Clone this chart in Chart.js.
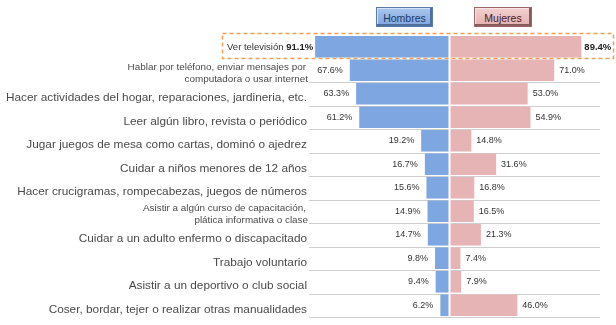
<!DOCTYPE html>
<html>
<head>
<meta charset="utf-8">
<script src="https://cdn.jsdelivr.net/npm/chart.js@4/dist/chart.umd.min.js"></script>
<style>
  html,body{margin:0;padding:0;background:#fff;}
  #wrap{position:relative;width:616px;height:325px;}
  .btn{position:absolute;top:7px;height:20px;font:10.5px "Liberation Sans",Arial,sans-serif;
       line-height:20px;text-align:center;box-sizing:border-box;}
  #bH{left:376px;width:57px;color:#1f3864;border:1px solid #5a7aa8;
      background:linear-gradient(#a9c6ee,#7ea6de);box-shadow:inset -2px -2px 0 #4f6f9f, inset 1px 1px 0 #d4e2f7;}
  #bM{left:474px;width:58px;color:#4a2020;border:1px solid #9a6a6a;
      background:linear-gradient(#f3d0d0,#e2b0b1);box-shadow:inset -2px -2px 0 #8a5a5a, inset 1px 1px 0 #f8e4e4;}
</style>
</head>
<body>
<div id="wrap">
  <canvas id="c" width="616" height="325"></canvas>
  <div class="btn" id="bH">Hombres</div>
  <div class="btn" id="bM">Mujeres</div>
</div>
<script>
// ==== DATA ====
const categories = [
  "Ver televisión",
  ["Hablar por teléfono, enviar mensajes por", "computadora o usar internet"],
  "Hacer actividades del hogar, reparaciones, jardineria, etc.",
  "Leer algún libro, revista o periódico",
  "Jugar juegos de mesa como cartas, dominó o ajedrez",
  "Cuidar a niños menores de 12 años",
  "Hacer crucigramas, rompecabezas, juegos de números",
  ["Asistir a algún curso de capacitación,", "plática informativa o clase"],
  "Cuidar a un adulto enfermo o discapacitado",
  "Trabajo voluntario",
  "Asistir a un deportivo o club social",
  "Coser, bordar, tejer o realizar otras manualidades"
];
const hombres = [91.1, 67.6, 63.3, 61.2, 19.2, 16.7, 15.6, 14.9, 14.7, 9.8, 9.4, 6.2];
const mujeres = [89.4, 71.0, 53.0, 54.9, 14.8, 31.6, 16.8, 16.5, 21.3, 7.4, 7.9, 46.0];

const BLUE = "#7ea6e0", PINK = "#e7b4b6";
const FONT = '"Liberation Sans", Arial, sans-serif';
const fmt = v => v.toFixed(1) + "%";

// gray row lines, behind the bars
const rowLines = {
  id: "rowLines",
  beforeDatasetsDraw(chart){
    const {ctx} = chart, y = chart.scales.y;
    const half = (y.getPixelForValue(1) - y.getPixelForValue(0)) / 2;
    ctx.save();
    ctx.strokeStyle = "#cfcfcf"; ctx.lineWidth = 1;
    for(let i=1;i<categories.length;i++){
      const yy = Math.round(y.getPixelForValue(i) + half) + 0.5;
      ctx.beginPath(); ctx.moveTo(309, yy); ctx.lineTo(600, yy); ctx.stroke();
    }
    ctx.restore();
  }
};

// labels, values, centre gap, highlight box
const overlay = {
  id: "overlay",
  afterDatasetsDraw(chart){
    const {ctx} = chart, x = chart.scales.x, y = chart.scales.y;
    const x0 = x.getPixelForValue(0);
    ctx.save();
    // centre gap
    ctx.fillStyle = "#fff";
    ctx.fillRect(x0 - 1, chart.chartArea.top, 2, chart.chartArea.bottom - chart.chartArea.top);

    ctx.textBaseline = "middle";
    categories.forEach((lab, i) => {
      const cy = y.getPixelForValue(i);
      const xl = x.getPixelForValue(-hombres[i]);
      const xr = x.getPixelForValue(mujeres[i]);
      if(i === 0){
        ctx.font = "bold 9.5px " + FONT; ctx.fillStyle = "#222";
        ctx.textAlign = "right";
        const v = fmt(hombres[i]);
        ctx.fillText(v, xl - 2, cy + 1);
        const w = ctx.measureText(v).width;
        ctx.font = "9.5px " + FONT; ctx.fillStyle = "#333";
        ctx.fillText(lab + " ", xl - 2 - w, cy + 1);
        ctx.font = "bold 9.5px " + FONT; ctx.fillStyle = "#222";
        ctx.textAlign = "left";
        ctx.fillText(fmt(mujeres[i]), xr + 3, cy + 1);
        return;
      }
      // category label
      ctx.fillStyle = "#4a4a4a"; ctx.textAlign = "right";
      if(Array.isArray(lab)){
        ctx.font = "9.9px " + FONT;
        ctx.fillText(lab[0], 306, cy - 3);
        ctx.fillText(lab[1], 308, cy + 9);
      } else {
        ctx.font = "11.8px " + FONT;
        ctx.fillText(lab, 307, cy + 4);
      }
      // values
      ctx.font = "9px " + FONT; ctx.fillStyle = "#333";
      ctx.textAlign = "right";
      ctx.fillText(fmt(hombres[i]), xl - 7, cy);
      ctx.textAlign = "left";
      ctx.fillText(fmt(mujeres[i]), xr + 5, cy);
    });

    // dashed box round first row
    ctx.strokeStyle = "#f0a050"; ctx.lineWidth = 1.5; ctx.setLineDash([4, 3]);
    ctx.strokeRect(222.5, 33.5, 391, 25);
    ctx.restore();
  }
};

new Chart(document.getElementById("c"), {
  type: "bar",
  data: {
    labels: categories,
    datasets: [
      { label: "Hombres", data: hombres.map(v => -v), backgroundColor: BLUE },
      { label: "Mujeres", data: mujeres, backgroundColor: PINK }
    ]
  },
  options: {
    indexAxis: "y",
    responsive: false,
    animation: false,
    events: [],
    categoryPercentage: 0.92,
    barPercentage: 1,
    layout: { padding: { left: 302, right: 19, top: 35, bottom: 8 } },
    scales: {
      x: { stacked: true, min: -100, max: 100, display: false },
      y: { stacked: true, display: false }
    },
    plugins: { legend: { display: false }, tooltip: { enabled: false } }
  },
  plugins: [rowLines, overlay]
});
</script>
</body>
</html>
